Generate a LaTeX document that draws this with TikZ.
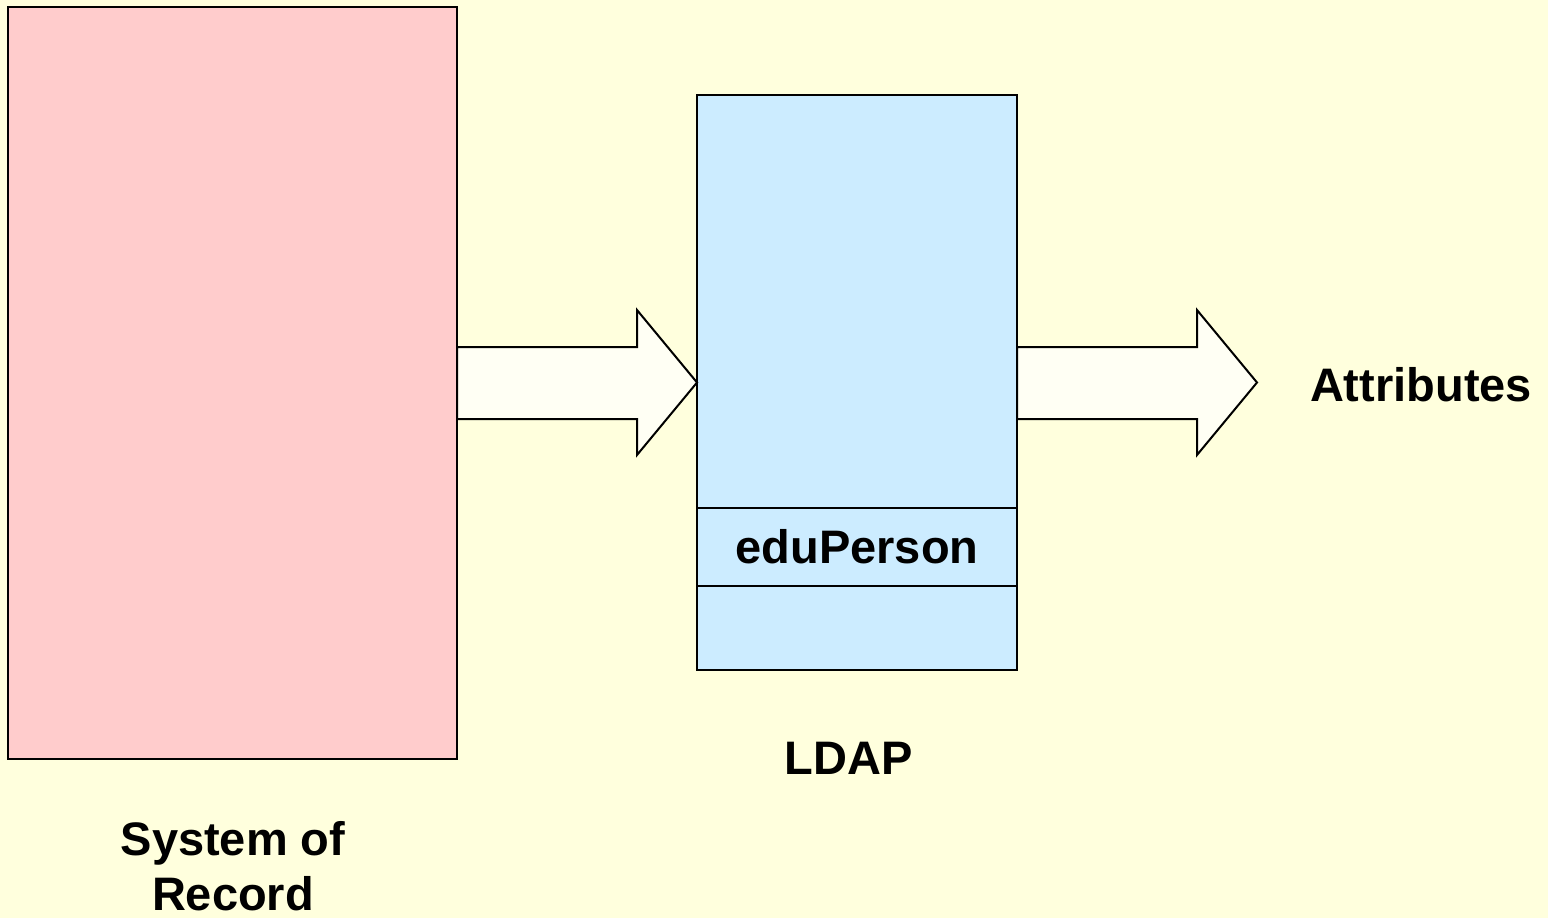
\documentclass[tikz,border=0pt]{standalone}
\usepackage{fontspec}
\setmainfont{Liberation Sans}
\usetikzlibrary{calc}
\definecolor{slidebg}{HTML}{FFFFDD}
\definecolor{sorpink}{HTML}{FFCCCC}
\definecolor{ldapblue}{HTML}{CCECFF}
\definecolor{arrowfill}{HTML}{FFFFF4}
% block arrow from the left point #1 to the tip #2 (same height)
\newcommand\blockarr[2]{%
  \draw[blockarrow] ($(#1)+(0,-35.5)$) -- ($(#2)+(-60,-35.5)$) -- ($(#2)+(-60,-72.5)$)
    -- (#2) -- ($(#2)+(-60,72.5)$) -- ($(#2)+(-60,36.5)$) -- ($(#1)+(0,36.5)$) -- cycle;}
\begin{document}
\begin{tikzpicture}[x=1pt,y=-1pt,
  box/.style={draw=black, line width=2pt, inner sep=0pt, outer sep=0pt, anchor=north west},
  lbl/.style={font=\fontsize{47}{55}\selectfont\bfseries, align=center, inner sep=0pt, text=black},
  blockarrow/.style={draw=black, fill=arrowfill, line width=2pt, line join=miter}]
\fill[slidebg] (0,0) rectangle (1548,918);
\useasboundingbox (0,0) rectangle (1548,918);
% system of record
\node[box, fill=sorpink, minimum width=449pt, minimum height=752pt] (sor) at (8,7) {};
% directory server with its eduPerson band
\node[box, fill=ldapblue, minimum width=320pt, minimum height=575pt] (ldap) at (697,95) {};
\node[box, minimum width=320pt, minimum height=78pt] (edu) at (697,508) {};
\node[lbl] (edutext) at (edu.center) {eduPerson};
% flows
\coordinate (attrtip) at (ldap.east -| 1257,0);
\blockarr{sor.east |- ldap.west}{ldap.west}
\blockarr{ldap.east}{attrtip}
% labels
\node[lbl] (attr) at (1421,385) {Attributes};
\node[lbl] (ldaplbl) at (848.5,758) {LDAP};
\node[lbl] (sorlbl) at (233,866) {System of\\Record};
\end{tikzpicture}
\end{document}
